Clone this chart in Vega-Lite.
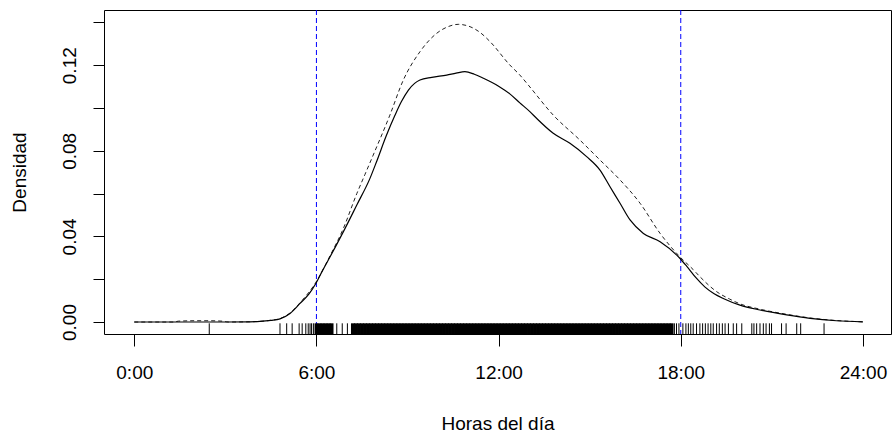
{
  "$schema": "https://vega.github.io/schema/vega-lite/v6.json",
  "width": 787,
  "height": 324,
  "autosize": {"type": "none"},
  "padding": {"left": 104, "top": 10, "right": 1, "bottom": 101},
  "background": "white",
  "config": {
    "view": {"stroke": "black", "strokeWidth": 1},
    "font": "Liberation Sans",
    "axis": {
      "grid": false,
      "domain": false,
      "tickColor": "black",
      "tickWidth": 1,
      "labelColor": "black",
      "labelFont": "Liberation Sans",
      "labelFontSize": 19,
      "titleFont": "Liberation Sans",
      "titleFontSize": 19,
      "titleFontWeight": "normal",
      "titleColor": "black"
    }
  },
  "datasets": {
    "curvas": [
      {"hora": 0, "densidad": 0, "serie": "observada"},
      {"hora": 1, "densidad": 0, "serie": "observada"},
      {"hora": 2, "densidad": 0, "serie": "observada"},
      {"hora": 3, "densidad": 0, "serie": "observada"},
      {"hora": 3.8, "densidad": 0.0001, "serie": "observada"},
      {"hora": 4.14, "densidad": 0.0003, "serie": "observada"},
      {"hora": 4.5, "densidad": 0.0008, "serie": "observada"},
      {"hora": 4.8, "densidad": 0.0015, "serie": "observada"},
      {"hora": 5.13, "densidad": 0.004, "serie": "observada"},
      {"hora": 5.46, "densidad": 0.0087, "serie": "observada"},
      {"hora": 5.75, "densidad": 0.013, "serie": "observada"},
      {"hora": 5.98, "densidad": 0.018, "serie": "observada"},
      {"hora": 6.2, "densidad": 0.024, "serie": "observada"},
      {"hora": 6.45, "densidad": 0.0305, "serie": "observada"},
      {"hora": 6.88, "densidad": 0.042, "serie": "observada"},
      {"hora": 7.33, "densidad": 0.0547, "serie": "observada"},
      {"hora": 7.76, "densidad": 0.067, "serie": "observada"},
      {"hora": 7.98, "densidad": 0.0749, "serie": "observada"},
      {"hora": 8.3, "densidad": 0.087, "serie": "observada"},
      {"hora": 8.59, "densidad": 0.0967, "serie": "observada"},
      {"hora": 8.8, "densidad": 0.103, "serie": "observada"},
      {"hora": 9.03, "densidad": 0.1084, "serie": "observada"},
      {"hora": 9.41, "densidad": 0.1131, "serie": "observada"},
      {"hora": 9.8, "densidad": 0.1143, "serie": "observada"},
      {"hora": 10.29, "densidad": 0.1154, "serie": "observada"},
      {"hora": 10.6, "densidad": 0.1163, "serie": "observada"},
      {"hora": 10.89, "densidad": 0.117, "serie": "observada"},
      {"hora": 11.2, "densidad": 0.1158, "serie": "observada"},
      {"hora": 11.5, "densidad": 0.1139, "serie": "observada"},
      {"hora": 12.0, "densidad": 0.1102, "serie": "observada"},
      {"hora": 12.37, "densidad": 0.1066, "serie": "observada"},
      {"hora": 12.7, "densidad": 0.1024, "serie": "observada"},
      {"hora": 13.03, "densidad": 0.0983, "serie": "observada"},
      {"hora": 13.25, "densidad": 0.0952, "serie": "observada"},
      {"hora": 13.8, "densidad": 0.0882, "serie": "observada"},
      {"hora": 14.35, "densidad": 0.0835, "serie": "observada"},
      {"hora": 14.9, "densidad": 0.0773, "serie": "observada"},
      {"hora": 15.34, "densidad": 0.071, "serie": "observada"},
      {"hora": 15.67, "densidad": 0.0632, "serie": "observada"},
      {"hora": 16.0, "densidad": 0.0555, "serie": "observada"},
      {"hora": 16.33, "densidad": 0.0477, "serie": "observada"},
      {"hora": 16.77, "densidad": 0.0414, "serie": "observada"},
      {"hora": 17.32, "densidad": 0.0375, "serie": "observada"},
      {"hora": 17.97, "densidad": 0.0298, "serie": "observada"},
      {"hora": 18.2, "densidad": 0.026, "serie": "observada"},
      {"hora": 18.5, "densidad": 0.0207, "serie": "observada"},
      {"hora": 18.8, "densidad": 0.0163, "serie": "observada"},
      {"hora": 19.1, "densidad": 0.0132, "serie": "observada"},
      {"hora": 19.4, "densidad": 0.011, "serie": "observada"},
      {"hora": 19.95, "densidad": 0.0079, "serie": "observada"},
      {"hora": 20.61, "densidad": 0.0056, "serie": "observada"},
      {"hora": 21.49, "densidad": 0.0033, "serie": "observada"},
      {"hora": 22.26, "densidad": 0.0017, "serie": "observada"},
      {"hora": 23.13, "densidad": 0.0006, "serie": "observada"},
      {"hora": 24.0, "densidad": 0.0001, "serie": "observada"},

      {"hora": 0, "densidad": 0, "serie": "ajustada"},
      {"hora": 1.3, "densidad": 0, "serie": "ajustada"},
      {"hora": 1.45, "densidad": 0.0004, "serie": "ajustada"},
      {"hora": 2.0, "densidad": 0.0006, "serie": "ajustada"},
      {"hora": 2.47, "densidad": 0.0006, "serie": "ajustada"},
      {"hora": 2.9, "densidad": 0.0004, "serie": "ajustada"},
      {"hora": 3.1, "densidad": 0, "serie": "ajustada"},
      {"hora": 3.8, "densidad": 0.0001, "serie": "ajustada"},
      {"hora": 4.14, "densidad": 0.0003, "serie": "ajustada"},
      {"hora": 4.5, "densidad": 0.0008, "serie": "ajustada"},
      {"hora": 4.8, "densidad": 0.0016, "serie": "ajustada"},
      {"hora": 5.13, "densidad": 0.0042, "serie": "ajustada"},
      {"hora": 5.46, "densidad": 0.009, "serie": "ajustada"},
      {"hora": 5.98, "densidad": 0.0185, "serie": "ajustada"},
      {"hora": 6.45, "densidad": 0.031, "serie": "ajustada"},
      {"hora": 6.88, "densidad": 0.0435, "serie": "ajustada"},
      {"hora": 7.33, "densidad": 0.06, "serie": "ajustada"},
      {"hora": 7.6, "densidad": 0.069, "serie": "ajustada"},
      {"hora": 7.87, "densidad": 0.078, "serie": "ajustada"},
      {"hora": 8.42, "densidad": 0.0967, "serie": "ajustada"},
      {"hora": 8.86, "densidad": 0.113, "serie": "ajustada"},
      {"hora": 9.41, "densidad": 0.1263, "serie": "ajustada"},
      {"hora": 9.96, "densidad": 0.1349, "serie": "ajustada"},
      {"hora": 10.3, "densidad": 0.1378, "serie": "ajustada"},
      {"hora": 10.67, "densidad": 0.1391, "serie": "ajustada"},
      {"hora": 11.06, "densidad": 0.138, "serie": "ajustada"},
      {"hora": 11.4, "densidad": 0.1352, "serie": "ajustada"},
      {"hora": 11.72, "densidad": 0.131, "serie": "ajustada"},
      {"hora": 12.37, "densidad": 0.1201, "serie": "ajustada"},
      {"hora": 12.7, "densidad": 0.1154, "serie": "ajustada"},
      {"hora": 12.98, "densidad": 0.1107, "serie": "ajustada"},
      {"hora": 13.8, "densidad": 0.0967, "serie": "ajustada"},
      {"hora": 14.68, "densidad": 0.085, "serie": "ajustada"},
      {"hora": 15.34, "densidad": 0.0757, "serie": "ajustada"},
      {"hora": 16.0, "densidad": 0.0664, "serie": "ajustada"},
      {"hora": 16.66, "densidad": 0.0555, "serie": "ajustada"},
      {"hora": 17.32, "densidad": 0.0414, "serie": "ajustada"},
      {"hora": 17.97, "densidad": 0.0305, "serie": "ajustada"},
      {"hora": 18.41, "densidad": 0.0245, "serie": "ajustada"},
      {"hora": 18.63, "densidad": 0.0212, "serie": "ajustada"},
      {"hora": 19.18, "densidad": 0.0142, "serie": "ajustada"},
      {"hora": 19.6, "densidad": 0.0108, "serie": "ajustada"},
      {"hora": 19.95, "densidad": 0.0085, "serie": "ajustada"},
      {"hora": 20.61, "densidad": 0.006, "serie": "ajustada"},
      {"hora": 21.49, "densidad": 0.0036, "serie": "ajustada"},
      {"hora": 22.26, "densidad": 0.0019, "serie": "ajustada"},
      {"hora": 23.13, "densidad": 0.0007, "serie": "ajustada"},
      {"hora": 24.0, "densidad": 0.0001, "serie": "ajustada"}
    ],
    "rug_disperso": [
      {"hora": 2.47}, {"hora": 4.8}, {"hora": 5.02}, {"hora": 5.2}, {"hora": 5.43},
      {"hora": 5.53}, {"hora": 5.65}, {"hora": 5.73}, {"hora": 5.79}, {"hora": 5.84},
      {"hora": 5.9}, {"hora": 6.67}, {"hora": 6.85}, {"hora": 7.02},
      {"hora": 17.79}, {"hora": 17.86}, {"hora": 17.94}, {"hora": 18.07}, {"hora": 18.17},
      {"hora": 18.25}, {"hora": 18.33}, {"hora": 18.41}, {"hora": 18.52}, {"hora": 18.63},
      {"hora": 18.72}, {"hora": 18.81}, {"hora": 18.9}, {"hora": 18.99}, {"hora": 19.07},
      {"hora": 19.18}, {"hora": 19.27}, {"hora": 19.37}, {"hora": 19.46}, {"hora": 19.57},
      {"hora": 19.73}, {"hora": 19.84}, {"hora": 20.01}, {"hora": 20.34}, {"hora": 20.41},
      {"hora": 20.5}, {"hora": 20.61}, {"hora": 20.72}, {"hora": 20.81}, {"hora": 20.92},
      {"hora": 20.99}, {"hora": 21.32}, {"hora": 21.47}, {"hora": 21.82}, {"hora": 21.95},
      {"hora": 22.72}
    ],
    "rug_denso": [
      {"hora": 6.0}, {"hora": 6.1}, {"hora": 6.2}, {"hora": 6.3}, {"hora": 6.4}, {"hora": 6.5},
      {"hora": 7.2}, {"hora": 7.3}, {"hora": 7.4}, {"hora": 7.5}, {"hora": 7.6}, {"hora": 7.7}, {"hora": 7.8}, {"hora": 7.9},
      {"hora": 8.0}, {"hora": 8.1}, {"hora": 8.2}, {"hora": 8.3}, {"hora": 8.4}, {"hora": 8.5}, {"hora": 8.6}, {"hora": 8.7}, {"hora": 8.8}, {"hora": 8.9},
      {"hora": 9.0}, {"hora": 9.1}, {"hora": 9.2}, {"hora": 9.3}, {"hora": 9.4}, {"hora": 9.5}, {"hora": 9.6}, {"hora": 9.7}, {"hora": 9.8}, {"hora": 9.9},
      {"hora": 10.0}, {"hora": 10.1}, {"hora": 10.2}, {"hora": 10.3}, {"hora": 10.4}, {"hora": 10.5}, {"hora": 10.6}, {"hora": 10.7}, {"hora": 10.8}, {"hora": 10.9},
      {"hora": 11.0}, {"hora": 11.1}, {"hora": 11.2}, {"hora": 11.3}, {"hora": 11.4}, {"hora": 11.5}, {"hora": 11.6}, {"hora": 11.7}, {"hora": 11.8}, {"hora": 11.9},
      {"hora": 12.0}, {"hora": 12.1}, {"hora": 12.2}, {"hora": 12.3}, {"hora": 12.4}, {"hora": 12.5}, {"hora": 12.6}, {"hora": 12.7}, {"hora": 12.8}, {"hora": 12.9},
      {"hora": 13.0}, {"hora": 13.1}, {"hora": 13.2}, {"hora": 13.3}, {"hora": 13.4}, {"hora": 13.5}, {"hora": 13.6}, {"hora": 13.7}, {"hora": 13.8}, {"hora": 13.9},
      {"hora": 14.0}, {"hora": 14.1}, {"hora": 14.2}, {"hora": 14.3}, {"hora": 14.4}, {"hora": 14.5}, {"hora": 14.6}, {"hora": 14.7}, {"hora": 14.8}, {"hora": 14.9},
      {"hora": 15.0}, {"hora": 15.1}, {"hora": 15.2}, {"hora": 15.3}, {"hora": 15.4}, {"hora": 15.5}, {"hora": 15.6}, {"hora": 15.7}, {"hora": 15.8}, {"hora": 15.9},
      {"hora": 16.0}, {"hora": 16.1}, {"hora": 16.2}, {"hora": 16.3}, {"hora": 16.4}, {"hora": 16.5}, {"hora": 16.6}, {"hora": 16.7}, {"hora": 16.8}, {"hora": 16.9},
      {"hora": 17.0}, {"hora": 17.1}, {"hora": 17.2}, {"hora": 17.3}, {"hora": 17.4}, {"hora": 17.5}, {"hora": 17.6}, {"hora": 17.7}
    ],
    "limites": [{"hora": 6}, {"hora": 18}]
  },
  "layer": [
    {
      "data": {"name": "limites"},
      "mark": {"type": "rule", "color": "#0000FF", "strokeWidth": 1, "strokeDash": [5, 3]},
      "encoding": {
        "x": {"field": "hora", "type": "quantitative"}
      }
    },
    {
      "data": {"name": "rug_denso"},
      "mark": {"type": "rule", "color": "black", "strokeWidth": 3.8},
      "encoding": {
        "x": {"field": "hora", "type": "quantitative"},
        "y": {"datum": -0.0056},
        "y2": {"datum": -0.0006}
      }
    },
    {
      "data": {"name": "rug_disperso"},
      "mark": {"type": "rule", "color": "black", "strokeWidth": 1},
      "encoding": {
        "x": {"field": "hora", "type": "quantitative"},
        "y": {"datum": -0.0056},
        "y2": {"datum": -0.0006}
      }
    },
    {
      "data": {"name": "curvas"},
      "transform": [{"filter": "datum.serie == 'ajustada'"}],
      "mark": {"type": "line", "color": "#222222", "strokeWidth": 1, "strokeDash": [4, 3], "interpolate": "monotone"},
      "encoding": {
        "x": {"field": "hora", "type": "quantitative"},
        "y": {"field": "densidad", "type": "quantitative"}
      }
    },
    {
      "data": {"name": "curvas"},
      "transform": [{"filter": "datum.serie == 'observada'"}],
      "mark": {"type": "line", "color": "black", "strokeWidth": 1.2, "interpolate": "monotone"},
      "encoding": {
        "x": {
          "field": "hora",
          "type": "quantitative",
          "scale": {"domain": [-0.997, 24.925], "nice": false, "zero": false},
          "axis": {
            "values": [0, 6, 12, 18, 24],
            "labelExpr": "datum.value + ':00'",
            "tickSize": 12,
            "labelPadding": 17,
            "labelFlush": false,
            "labelOverlap": false,
            "title": "Horas del día",
            "titleY": 89,
            "titleBaseline": "middle"
          }
        },
        "y": {
          "field": "densidad",
          "type": "quantitative",
          "scale": {"domain": [-0.0056, 0.1458], "nice": false, "zero": false},
          "axis": {
            "values": [0, 0.02, 0.04, 0.06, 0.08, 0.1, 0.12, 0.14],
            "labelExpr": "round(datum.value * 100) % 4 == 0 ? format(datum.value, '.2f') : ''",
            "tickSize": 11,
            "labelAngle": -90,
            "labelAlign": "center",
            "labelBaseline": "alphabetic",
            "labelPadding": 18,
            "labelFlush": false,
            "labelOverlap": false,
            "title": "Densidad",
            "titleAngle": -90,
            "titleX": -85,
            "titleY": 162,
            "titleAlign": "center",
            "titleBaseline": "middle"
          }
        }
      }
    },
    {
      "mark": {"type": "text", "font": "Liberation Sans", "fontWeight": "bold", "fontSize": 25, "color": "black", "align": "center", "baseline": "middle"},
      "encoding": {
        "x": {"datum": 4.17},
        "y": {"datum": 0.124},
        "text": {"value": "n=2019"}
      }
    }
  ]
}
